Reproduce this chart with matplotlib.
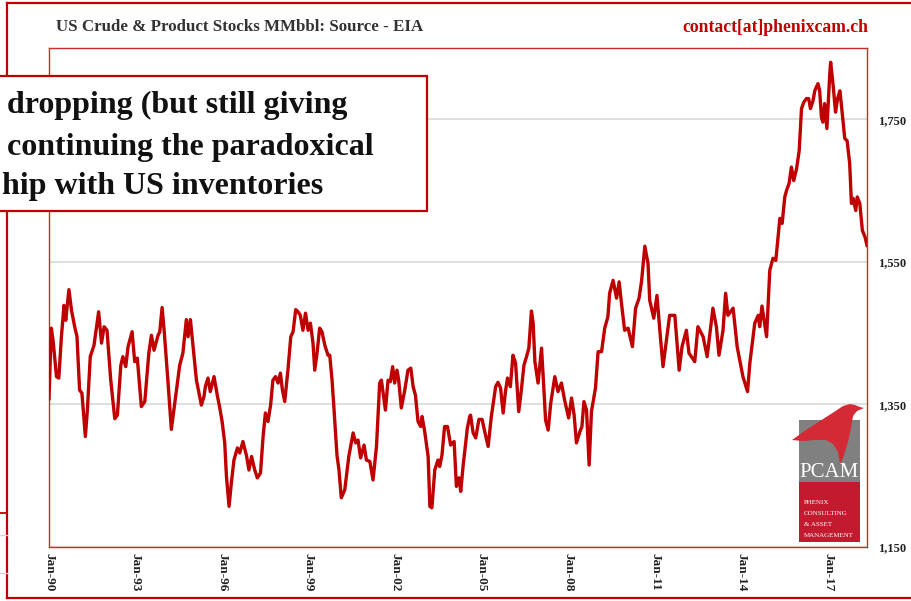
import matplotlib
matplotlib.use("Agg")
import matplotlib.pyplot as plt
from matplotlib.lines import Line2D
from matplotlib.patches import Rectangle, Polygon

# ---------------- data ----------------
years = [
    1990.00, 1990.08, 1990.14, 1990.26, 1990.34, 1990.43, 1990.52, 1990.58, 1990.69, 1990.78,
    1990.89, 1990.97, 1991.06, 1991.14, 1991.26, 1991.33, 1991.43, 1991.56, 1991.72, 1991.82,
    1991.91, 1992.01, 1992.14, 1992.28, 1992.37, 1992.49, 1992.56, 1992.66, 1992.74, 1992.88,
    1992.97, 1993.06, 1993.20, 1993.32, 1993.46, 1993.55, 1993.64, 1993.78, 1993.84, 1993.92,
    1993.99, 1994.12, 1994.24, 1994.36, 1994.53, 1994.64, 1994.76, 1994.82, 1994.90, 1994.99,
    1995.11, 1995.28, 1995.37, 1995.42, 1995.51, 1995.59, 1995.72, 1995.84, 1995.91, 1996.00,
    1996.09, 1996.15, 1996.24, 1996.32, 1996.41, 1996.53, 1996.61, 1996.72, 1996.84, 1996.93,
    1997.02, 1997.13, 1997.22, 1997.33, 1997.42, 1997.50, 1997.59, 1997.68, 1997.76, 1997.85,
    1997.94, 1998.02, 1998.09, 1998.17, 1998.28, 1998.38, 1998.46, 1998.55, 1998.63, 1998.71,
    1998.80, 1998.89, 1998.98, 1999.06, 1999.15, 1999.21, 1999.29, 1999.38, 1999.46, 1999.56,
    1999.67, 1999.73, 1999.81, 1999.88, 1999.98, 2000.05, 2000.13, 2000.25, 2000.39, 2000.54,
    2000.63, 2000.71, 2000.80, 2000.92, 2001.00, 2001.12, 2001.23, 2001.35, 2001.46, 2001.52,
    2001.66, 2001.75, 2001.83, 2001.91, 2001.98, 2002.06, 2002.12, 2002.21, 2002.33, 2002.44,
    2002.54, 2002.62, 2002.70, 2002.79, 2002.88, 2002.93, 2003.02, 2003.14, 2003.20, 2003.27,
    2003.37, 2003.48, 2003.54, 2003.62, 2003.71, 2003.81, 2003.92, 2004.04, 2004.12, 2004.21,
    2004.27, 2004.35, 2004.50, 2004.58, 2004.61, 2004.70, 2004.79, 2004.90, 2005.01, 2005.10,
    2005.22, 2005.33, 2005.48, 2005.56, 2005.65, 2005.74, 2005.82, 2005.89, 2005.99, 2006.08,
    2006.17, 2006.28, 2006.37, 2006.46, 2006.55, 2006.63, 2006.72, 2006.78, 2006.84, 2006.95,
    2007.07, 2007.14, 2007.21, 2007.30, 2007.39, 2007.53, 2007.64, 2007.76, 2007.87, 2008.01,
    2008.11, 2008.20, 2008.28, 2008.40, 2008.47, 2008.54, 2008.63, 2008.72, 2008.80, 2008.94,
    2009.03, 2009.15, 2009.26, 2009.37, 2009.43, 2009.55, 2009.67, 2009.76, 2009.84, 2009.95,
    2010.07, 2010.22, 2010.33, 2010.45, 2010.54, 2010.65, 2010.76, 2010.82, 2010.96, 2011.07,
    2011.17, 2011.28, 2011.40, 2011.51, 2011.69, 2011.84, 2011.94, 2012.09, 2012.18, 2012.38,
    2012.49, 2012.67, 2012.81, 2013.01, 2013.13, 2013.22, 2013.36, 2013.45, 2013.53, 2013.71,
    2013.85, 2014.05, 2014.21, 2014.29, 2014.46, 2014.58, 2014.63, 2014.71, 2014.87, 2014.98,
    2015.09, 2015.19, 2015.27, 2015.33, 2015.41, 2015.50, 2015.56, 2015.65, 2015.73, 2015.81,
    2015.91, 2016.00, 2016.08, 2016.16, 2016.25, 2016.33, 2016.39, 2016.48, 2016.54, 2016.65,
    2016.71, 2016.77, 2016.82, 2016.88, 2016.96, 2017.06, 2017.09, 2017.17, 2017.26, 2017.33,
    2017.41, 2017.47, 2017.58, 2017.66, 2017.75, 2017.81, 2017.87, 2017.96, 2018.01, 2018.10,
    2018.19, 2018.28, 2018.35,
]
stocks = [
    1358, 1457, 1440, 1389, 1387, 1445, 1489, 1468, 1511, 1482,
    1459, 1445, 1370, 1366, 1305, 1342, 1417, 1433, 1480, 1436,
    1459, 1454, 1384, 1330, 1335, 1405, 1417, 1403, 1431, 1452,
    1410, 1415, 1347, 1354, 1422, 1447, 1426, 1447, 1452, 1486,
    1454, 1384, 1315, 1352, 1405, 1422, 1469, 1445, 1469, 1433,
    1384, 1349, 1361, 1375, 1387, 1368, 1389, 1361, 1347, 1326,
    1296, 1249, 1207, 1240, 1272, 1289, 1282, 1298, 1279, 1258,
    1277, 1258, 1247, 1254, 1305, 1338, 1326, 1349, 1384, 1389,
    1380, 1394, 1370, 1354, 1398, 1445, 1452, 1483, 1480, 1475,
    1454, 1478, 1454, 1464, 1436, 1398, 1422, 1457, 1452, 1433,
    1419, 1419, 1384, 1342, 1279, 1258, 1219, 1230, 1277, 1310,
    1296, 1300, 1275, 1293, 1272, 1270, 1244, 1291, 1380, 1384,
    1342, 1384, 1382, 1403, 1380, 1398, 1384, 1345, 1370, 1398,
    1401, 1375, 1363, 1326, 1319, 1333, 1312, 1277, 1207, 1205,
    1258, 1272, 1263, 1279, 1319, 1319, 1293, 1298, 1235, 1247,
    1228, 1263, 1317, 1333, 1335, 1310, 1303, 1329, 1329, 1312,
    1291, 1333, 1375, 1381, 1373, 1338, 1368, 1387, 1375, 1419,
    1408, 1340, 1370, 1405, 1417, 1429, 1481, 1464, 1410, 1380,
    1429, 1380, 1328, 1314, 1352, 1389, 1368, 1380, 1356, 1331,
    1359, 1335, 1296, 1312, 1319, 1354, 1342, 1265, 1340, 1373,
    1424, 1424, 1457, 1473, 1506, 1524, 1499, 1522, 1492, 1454,
    1457, 1431, 1485, 1499, 1524, 1572, 1548, 1496, 1471, 1503,
    1454, 1403, 1440, 1475, 1475, 1398, 1431, 1454, 1422, 1410,
    1459, 1445, 1417, 1485, 1459, 1419, 1454, 1506, 1475, 1485,
    1431, 1389, 1368, 1408, 1464, 1475, 1459, 1488, 1445, 1538,
    1555, 1552, 1585, 1611, 1604, 1641, 1650, 1660, 1683, 1664,
    1681, 1706, 1765, 1774, 1779, 1779, 1765, 1776, 1790, 1800,
    1790, 1753, 1746, 1772, 1737, 1814, 1830, 1800, 1760, 1779,
    1790, 1767, 1723, 1720, 1688, 1632, 1639, 1622, 1641, 1632,
    1594, 1585, 1573,
]
x_tick_years = [1990, 1993, 1996, 1999, 2002, 2005, 2008, 2011, 2014, 2017]
x_tick_labels = ["Jan-90", "Jan-93", "Jan-96", "Jan-99", "Jan-02",
                 "Jan-05", "Jan-08", "Jan-11", "Jan-14", "Jan-17"]
y_ticks = [1150, 1350, 1550, 1750]
y_tick_labels = ["1,150", "1,350", "1,550", "1,750"]

title_text = "US Crude & Product Stocks MMbbl: Source - EIA"
contact_text = "contact[at]phenixcam.ch"
note_lines = ["dropping (but still giving", "continuing the paradoxical", "hip with US inventories"]
logo_lines = ["PHENIX", "CONSULTING", "& ASSET", "MANAGEMENT"]

# ---------------- figure ----------------
SERIF = ["Liberation Serif", "DejaVu Serif"]
W, H = 911, 601
fig = plt.figure(figsize=(W / 100, H / 100), dpi=100)
fig.patch.set_facecolor("white")


def fx(px):
    return px / W


def fy(py):
    return 1 - py / H


ax = fig.add_axes([fx(49), fy(547), fx(867) - fx(49), fy(48) - fy(547)])
ax.plot(years, stocks, color="#c00000", lw=2.4, solid_joinstyle="round", zorder=3)
ax.set_xlim(1990, 2018.35)
ax.set_ylim(1150, 1850)

ax.set_yticks(y_ticks)
ax.set_yticklabels(y_tick_labels)
ax.yaxis.tick_right()
ax.tick_params(axis="y", length=0, pad=8)
ax.set_xticks(x_tick_years)
ax.set_xticklabels(x_tick_labels, rotation=-90)
ax.tick_params(axis="x", length=0, pad=4)
for lab in ax.get_xticklabels():
    lab.set_family(SERIF)
    lab.set_fontweight("bold")
    lab.set_fontsize(9.5)
    lab.set_color("#222222")
for lab in ax.get_yticklabels():
    lab.set_family(SERIF)
    lab.set_fontweight("bold")
    lab.set_fontsize(9)
    lab.set_color("#222222")

ax.grid(axis="y", color="#d9d9d9", lw=1.2)
ax.set_axisbelow(True)
for s in ax.spines.values():
    s.set_color("#d02828")
    s.set_linewidth(1.0)

# outer frame lines
fr = "#c00000"
fig.add_artist(Line2D([fx(7), fx(7)], [fy(3), fy(598)], color=fr, lw=1.6))
fig.add_artist(Line2D([fx(7), fx(911)], [fy(3), fy(3)], color=fr, lw=1.6))
fig.add_artist(Line2D([fx(7), fx(911)], [fy(598), fy(598)], color=fr, lw=1.6))
fig.add_artist(Line2D([fx(0), fx(7)], [fy(513), fy(513)], color=fr, lw=1.3))
fig.add_artist(Line2D([fx(0), fx(7)], [fy(535), fy(535)], color="#d9d9d9", lw=1))
fig.add_artist(Line2D([fx(0), fx(7)], [fy(573), fy(573)], color="#d9d9d9", lw=1))

# header texts
fig.text(fx(56), fy(31), title_text, family=SERIF, fontweight="bold", fontsize=12.2,
         color="#333333", ha="left", va="baseline")
fig.text(fx(868), fy(32), contact_text, family=SERIF, fontweight="bold", fontsize=12.7,
         color="#c00000", ha="right", va="baseline")

# annotation box
fig.add_artist(Rectangle((fx(-5), fy(211)), fx(432), fy(76) - fy(211),
                         facecolor="white", edgecolor="#c00000", lw=1.6, zorder=5))
for i, (line, bx, by) in enumerate(zip(note_lines, [7, 7, 2], [113, 155, 194])):
    fig.text(fx(bx), fy(by), line, family=SERIF, fontweight="bold",
             fontsize=23, color="#111111", ha="left", va="baseline", zorder=6)

# logo
fig.add_artist(Rectangle((fx(799), fy(482)), fx(61), fy(420) - fy(482),
                         facecolor="#808080", edgecolor="none", zorder=5))
fig.add_artist(Rectangle((fx(799), fy(542)), fx(61), fy(482) - fy(542),
                         facecolor="#c41a30", edgecolor="none", zorder=5))
bird = [(792, 440), (806, 430), (820, 421), (834, 412), (843, 406), (850, 404),
        (855, 405), (860, 407), (864, 408), (857, 411), (853, 416), (851, 428),
        (848, 442), (843, 458), (840, 464), (838, 452), (833, 444), (826, 440),
        (815, 440), (803, 441)]
fig.add_artist(Polygon([(fx(a), fy(b)) for a, b in bird], closed=True,
                       facecolor="#d42a35", edgecolor="none", zorder=6))
fig.text(fx(829.5), fy(477), "PCAM", family=SERIF, fontsize=15, color="white",
         ha="center", va="baseline", zorder=7)
for i, line in enumerate(logo_lines):
    fig.text(fx(804), fy(504 + 11 * i), line, family=SERIF, fontsize=5, color="white",
             ha="left", va="baseline", zorder=7)

fig.savefig("out.png", dpi=100, facecolor="white")
